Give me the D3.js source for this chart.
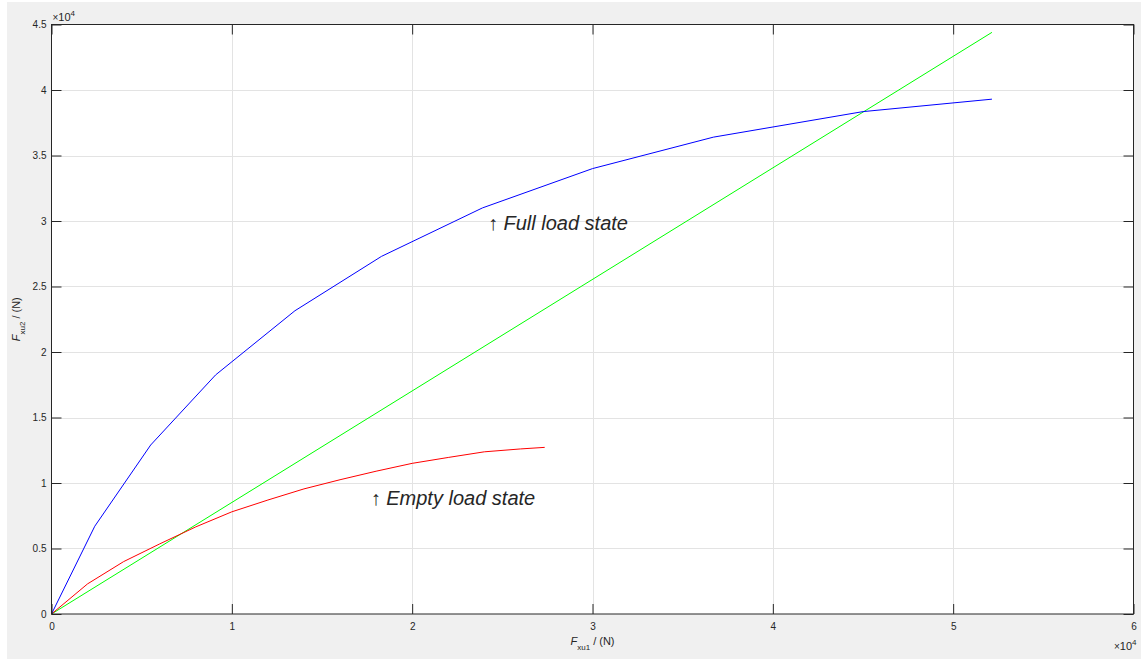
<!DOCTYPE html>
<html>
<head>
<meta charset="utf-8">
<script src="https://cdn.jsdelivr.net/npm/d3@7"></script>
<style>
  body { margin: 0; background: #fff; }
  svg { display: block; }
  text { font-family: "Liberation Sans", Arial, Helvetica, sans-serif; fill: #262626; }
</style>
</head>
<body>
<div id="chart"></div>
<script>
// Full load state (blue)
const fullX = [0, 2400, 5500, 9100, 13500, 18300, 23900, 30000, 36700, 45000, 52150];
const fullY = [0, 6700, 12900, 18250, 23150, 27300, 31000, 34000, 36400, 38350, 39300];

// Empty load state (red)
const emptyX = [0, 2000, 4000, 6000, 8000, 10000, 12000, 14000, 16000, 18000, 20000, 22000, 24000, 26000, 27350];
const emptyY = [0, 2300, 4000, 5350, 6650, 7800, 8700, 9550, 10250, 10900, 11500, 11950, 12380, 12600, 12720];

// reference line (green)
const refX = [0, 52150];
const refY = [0, 44400];

const xTicks = [0, 10000, 20000, 30000, 40000, 50000, 60000];
const yTicks = [0, 5000, 10000, 15000, 20000, 25000, 30000, 35000, 40000, 45000];

const notes = [
    { x: 24200, y: 30000, text: '\u2191 Full load state' },
    { x: 17700, y: 9000, text: '\u2191 Empty load state' }
];

const dimensions = {
    width: 1141,
    height: 659,
    left: 51.5,
    top: 24.5,
    right: 1133.5,
    bottom: 614
};

const xScale = d3.scaleLinear()
    .domain([0, 60000])
    .range([dimensions.left, dimensions.right]);

const yScale = d3.scaleLinear()
    .domain([0, 45000])
    .range([dimensions.bottom, dimensions.top]);

const svg = d3.select('#chart')
    .append('svg')
    .attr('width', dimensions.width)
    .attr('height', dimensions.height);

// figure background
svg.append('rect')
    .attr('x', 7).attr('y', 2)
    .attr('width', dimensions.width - 7)
    .attr('height', dimensions.height - 2)
    .attr('fill', '#f0f0f0');

// axes area
svg.append('rect')
    .attr('x', dimensions.left).attr('y', dimensions.top)
    .attr('width', dimensions.right - dimensions.left)
    .attr('height', dimensions.bottom - dimensions.top)
    .attr('fill', '#ffffff');

// grid
const grid = svg.append('g').attr('stroke', '#e3e3e3').attr('stroke-width', 1);
grid.selectAll('.vg')
    .data(xTicks.slice(1, -1))
    .join('line')
    .attr('x1', d => Math.round(xScale(d)) + 0.5).attr('x2', d => Math.round(xScale(d)) + 0.5)
    .attr('y1', dimensions.top).attr('y2', dimensions.bottom);
grid.selectAll('.hg')
    .data(yTicks.slice(1, -1))
    .join('line')
    .attr('y1', d => Math.round(yScale(d)) + 0.5).attr('y2', d => Math.round(yScale(d)) + 0.5)
    .attr('x1', dimensions.left).attr('x2', dimensions.right);

// series
const series = [
    { xs: refX, ys: refY, color: '#00ff00' },
    { xs: emptyX, ys: emptyY, color: '#ff0000' },
    { xs: fullX, ys: fullY, color: '#0000ff' }
];

const line = d3.line()
    .x(d => xScale(d[0]))
    .y(d => yScale(d[1]));

svg.append('g')
    .selectAll('path')
    .data(series)
    .join('path')
    .attr('d', s => line(s.xs.map((x, i) => [x, s.ys[i]])))
    .attr('fill', 'none')
    .attr('stroke', s => s.color)
    .attr('stroke-width', 1);

// axes (ticks inside, box on all four sides)
const tickFont = g => g.selectAll('text')
    .style('font-size', '10px')
    .attr('fill', '#262626');

const axisStyle = g => {
    g.select('.domain').remove();
    g.selectAll('.tick line').attr('stroke', '#262626');
};

const xAxis = d3.axisBottom(xScale)
    .tickValues(xTicks)
    .tickSize(-10)
    .tickPadding(9)
    .tickFormat(d => d / 10000);

svg.append('g')
    .attr('transform', `translate(0, ${dimensions.bottom})`)
    .call(xAxis)
    .call(axisStyle)
    .call(tickFont);

svg.append('g')
    .attr('transform', `translate(0, ${dimensions.top})`)
    .call(d3.axisTop(xScale).tickValues(xTicks).tickSize(-10).tickFormat(''))
    .call(axisStyle);

const yAxis = d3.axisLeft(yScale)
    .tickValues(yTicks)
    .tickSize(-10)
    .tickPadding(5)
    .tickFormat(d => d / 10000);

svg.append('g')
    .attr('transform', `translate(${dimensions.left}, 0)`)
    .call(yAxis)
    .call(axisStyle)
    .call(tickFont);

svg.append('g')
    .attr('transform', `translate(${dimensions.right}, 0)`)
    .call(d3.axisRight(yScale).tickValues(yTicks).tickSize(-10).tickFormat(''))
    .call(axisStyle);

// box
svg.append('rect')
    .attr('x', dimensions.left).attr('y', dimensions.top)
    .attr('width', dimensions.right - dimensions.left)
    .attr('height', dimensions.bottom - dimensions.top)
    .attr('fill', 'none')
    .attr('stroke', '#262626')
    .attr('stroke-width', 1);

// exponent labels
const expY = svg.append('text')
    .attr('x', dimensions.left + 1)
    .attr('y', 21)
    .style('font-size', '11px');
expY.append('tspan').text('\u00d7').style('font-size', '10px');
expY.append('tspan').text('10');
expY.append('tspan').text('4').attr('dy', -5).style('font-size', '8px');

const expX = svg.append('text')
    .attr('x', dimensions.right + 3)
    .attr('y', 650)
    .attr('text-anchor', 'end')
    .style('font-size', '11px');
expX.append('tspan').text('\u00d7').style('font-size', '10px');
expX.append('tspan').text('10');
expX.append('tspan').text('4').attr('dy', -5).style('font-size', '8px');

// axis labels
const xLabel = svg.append('text')
    .attr('x', (dimensions.left + dimensions.right) / 2)
    .attr('y', 645)
    .attr('text-anchor', 'middle')
    .style('font-size', '11px');
xLabel.append('tspan').text('F').style('font-style', 'italic');
xLabel.append('tspan').text('xu1').attr('dy', 5).style('font-size', '8px');
xLabel.append('tspan').text(' / (N)').attr('dy', -5);

const yLabel = svg.append('text')
    .attr('transform', `translate(20, ${(dimensions.top + dimensions.bottom) / 2}) rotate(-90)`)
    .attr('text-anchor', 'middle')
    .style('font-size', '11px');
yLabel.append('tspan').text('F').style('font-style', 'italic');
yLabel.append('tspan').text('xu2').attr('dy', 5).style('font-size', '8px');
yLabel.append('tspan').text(' / (N)').attr('dy', -5);

// annotations
svg.append('g')
    .selectAll('text')
    .data(notes)
    .join('text')
    .attr('x', d => xScale(d.x))
    .attr('y', d => yScale(d.y))
    .attr('dy', '0.45em')
    .style('font-size', '20px')
    .style('font-style', 'italic')
    .text(d => d.text);
</script>
</body>
</html>
